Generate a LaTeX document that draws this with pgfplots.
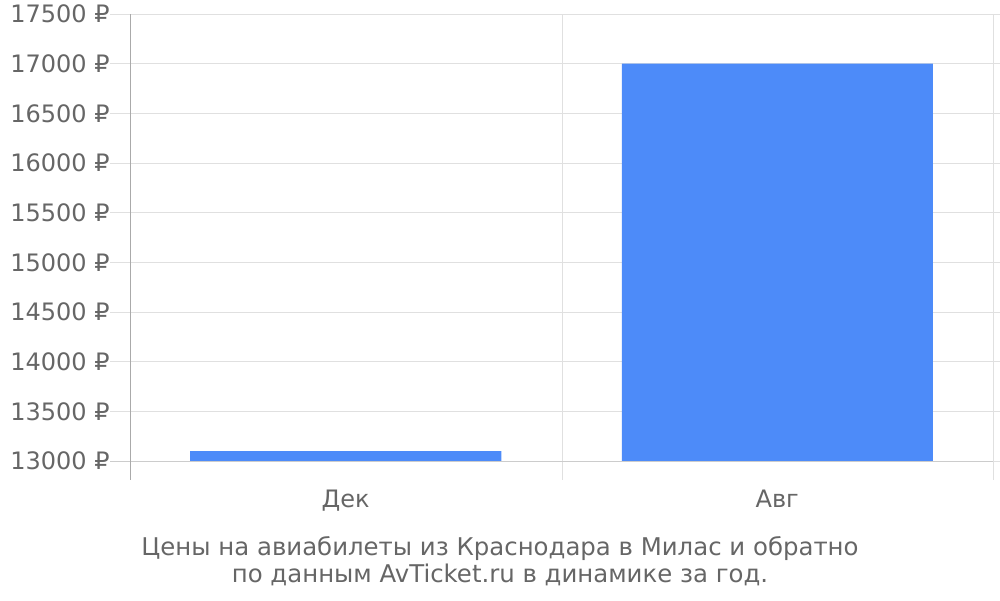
\documentclass[border=0pt]{standalone}
\usepackage{pgfplots}
\pgfplotsset{compat=1.18}
\usepackage{fontspec}
\setmainfont{DejaVu Sans}
\definecolor{barblue}{HTML}{4D8BF9}
\definecolor{txt}{HTML}{666666}
\definecolor{gridc}{HTML}{E0E0E0}
\definecolor{axc}{HTML}{AAAAAA}
\definecolor{basec}{HTML}{CCCCCC}

\begin{document}
\begin{tikzpicture}
% 1 px of the reference = 0.5pt, y downwards
\useasboundingbox (0pt,0pt) rectangle (500pt,-300pt);
\begin{axis}[
  at={(65pt,-7pt)}, anchor=north west,
  scale only axis, width=431.5pt, height=223.5pt,
  xmin=-0.5, xmax=1.5, ymin=13000, ymax=17500,
  ytick distance=500, scaled y ticks=false,
  xtick={0,1}, xticklabels={Дек,Авг},
  axis line style={draw=none},
  ymajorgrids, grid style={gridc, line width=0.5pt},
  ytick style={gridc, line width=0.5pt},
  major tick length=10pt, tick align=outside,
  xtick style={draw=none},
  ticklabel style={font=\fontsize{12}{14}\selectfont, text=txt},
  yticklabel style={inner xsep=0pt},
  xticklabel style={yshift=-1pt},
  yticklabel={\pgfmathprintnumber{\tick}~₽},
  /pgf/number format/.cd, 1000 sep={}, fixed, assume math mode=true,
]
\addplot[ybar, bar width=155.5pt, bar shift=0pt, fill=barblue, draw=none]
  coordinates {(0,13100) (1,17000)};
\end{axis}
\draw[gridc, line width=0.5pt] (281pt,-7pt) -- (281pt,-240pt) (496.5pt,-7pt) -- (496.5pt,-240pt);
\draw[basec, line width=0.5pt] (55pt,-230.5pt) -- (496.5pt,-230.5pt);
\draw[axc, line width=0.5pt] (65pt,-7pt) -- (65pt,-240pt);
\node[text=txt, align=center, font=\fontsize{12.2}{13.5}\selectfont] at (250pt,-280.5pt)
  {Цены на авиабилеты из Краснодара в Милас и обратно\\по данным AvTicket.ru в динамике за год.};
\end{tikzpicture}
\end{document}
